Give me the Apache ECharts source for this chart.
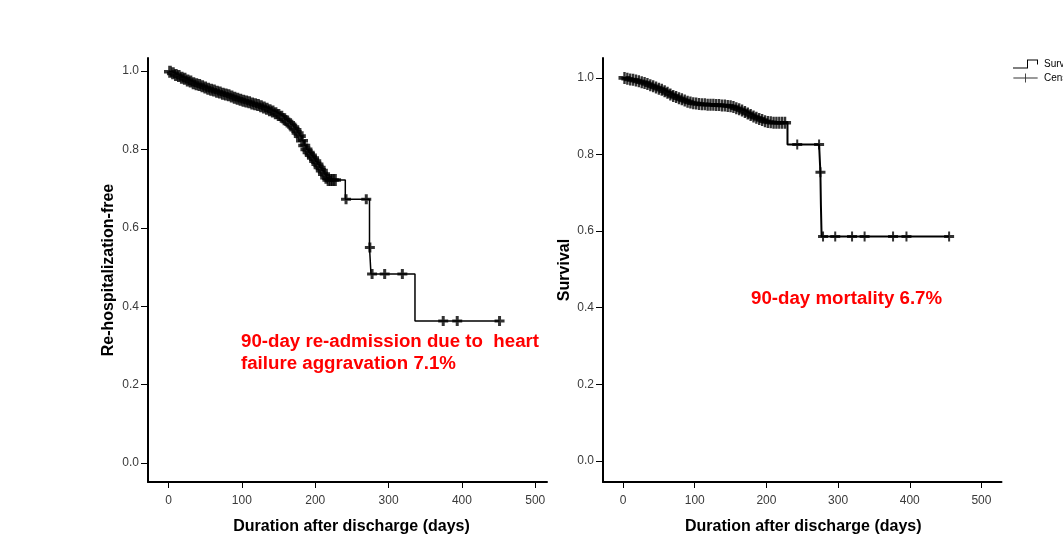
<!DOCTYPE html>
<html><head><meta charset="utf-8">
<script src="https://cdn.jsdelivr.net/npm/echarts@6/dist/echarts.min.js"></script>
<style>html,body{margin:0;padding:0;background:#fff}#c{width:1063px;height:550px}</style>
</head><body><div id="c"></div>
<script>
const xTicks = [0, 100, 200, 300, 400, 500];
const yTicks = [0, 0.2, 0.4, 0.6, 0.8, 1.0];

// Left panel: re-hospitalization-free
const leftCensorTime = [2,6,10,14,18,22,26,30,34,38,42,46,50,54,58,62,66,70,74,78,82,86,90,94,98,102,106,110,114,118,122,126,130,134,138,142,146,150,154,158,162,166,170,173,176,179,182,185,188,191,194,197,200,203,206,209,212,215,218,221,224,227,242,269.6,274.5,277.5,294.7,318.8,374.5,393.6,451.3];
const leftCensorSurv = [0.998,0.994,0.990,0.987,0.983,0.980,0.976,0.973,0.969,0.966,0.964,0.961,0.958,0.955,0.952,0.950,0.947,0.945,0.942,0.940,0.938,0.935,0.932,0.929,0.927,0.924,0.922,0.920,0.917,0.915,0.913,0.910,0.907,0.904,0.900,0.897,0.892,0.888,0.883,0.877,0.871,0.864,0.857,0.850,0.842,0.834,0.822,0.810,0.800,0.792,0.785,0.778,0.770,0.762,0.754,0.746,0.737,0.728,0.722,0.722,0.722,0.722,0.673,0.673,0.55,0.482,0.482,0.482,0.362,0.362,0.362];
const leftEventTime = [0, 241, 274, 276, 336];
const leftEventSurv = [1.0, 0.673, 0.55, 0.482, 0.362];

// Right panel: survival
const rightCensorTime = [2,6,10,14,18,22,26,30,34,38,42,46,50,54,58,62,66,70,74,78,82,86,90,94,98,102,106,110,114,118,122,126,130,134,138,142,146,150,154,158,162,166,170,174,178,182,186,190,194,198,202,206,210,214,218,222,226,243,273.5,275.4,279,296,319.5,337,376.7,395.4,454.9];
const rightCensorSurv = [1.0,0.998,0.996,0.995,0.993,0.991,0.989,0.987,0.984,0.981,0.978,0.975,0.972,0.969,0.965,0.961,0.957,0.953,0.950,0.947,0.944,0.941,0.938,0.936,0.934,0.933,0.932,0.931,0.931,0.930,0.930,0.930,0.929,0.929,0.928,0.928,0.927,0.926,0.924,0.921,0.918,0.915,0.911,0.907,0.903,0.899,0.896,0.893,0.890,0.887,0.885,0.884,0.883,0.883,0.883,0.883,0.883,0.826,0.826,0.754,0.586,0.586,0.586,0.586,0.586,0.586,0.586];
const rightEventTime = [0, 229.4, 275.3, 276, 277];
const rightEventSurv = [1.0, 0.826, 0.754, 0.67, 0.586];

const leftNote = ['90-day re-admission due to  heart', 'failure aggravation 7.1%'];
const rightNote = '90-day mortality 6.7%';

const fontFam = "'Liberation Sans', Arial, sans-serif";
const noteFont = "bold 18.7px 'Liberation Sans', Arial, sans-serif";
const plusSym = 'path://M3.5,0H6.5V10H3.5Z M0,3.5H10V6.5H0Z';
const plusSymThin = 'path://M4,0H6V10H4Z M0,3.5H10V6.5H0Z';
const stepIcon = 'path://M0,9H14V1H25V6H24V2H15V10H0Z';
const plusIcon = 'path://M0,4.5H27V5.5H0Z M13,0H14V10H13Z';

function kmLine(et, es, ct, cs) {
  const pts = [];
  et.forEach((t, i) => pts.push([t, es[i], 0]));
  ct.forEach((t, i) => pts.push([t, cs[i], 1]));
  pts.sort((a, b) => a[0] - b[0] || a[2] - b[2]);
  return pts.map(p => [p[0], p[1]]);
}
function pairs(t, s) { return t.map((v, i) => [v, s[i]]); }
// dense early marks overlap into a thicker band
const markSize = v => (v[0] < 230 ? 12 : 10);

function xAxisCfg(gi, min, max, pad) {
  return {
    type: 'value', gridIndex: gi, min: min, max: max,
    name: 'Duration after discharge (days)', nameLocation: 'middle', nameGap: 37,
    nameTextStyle: {fontFamily: fontFam, fontWeight: 'bold', fontSize: 16, color: '#000', padding: [0, 0, 0, pad]},
    axisLine: {onZero: false, lineStyle: {color: '#000', width: 2}},
    axisTick: {customValues: xTicks, length: 6, lineStyle: {color: '#000', width: 1}},
    axisLabel: {customValues: xTicks, color: '#3a3a3a', fontSize: 12, fontFamily: fontFam, margin: 13},
    splitLine: {show: false}
  };
}
function yAxisCfg(gi, min, max, name, gap) {
  return {
    type: 'value', gridIndex: gi, min: min, max: max,
    name: name, nameLocation: 'middle', nameGap: gap,
    nameTextStyle: {fontFamily: fontFam, fontWeight: 'bold', fontSize: 16, color: '#000'},
    axisLine: {onZero: false, lineStyle: {color: '#000', width: 2}},
    axisTick: {customValues: yTicks, length: 7, lineStyle: {color: '#000', width: 1}},
    axisLabel: {customValues: yTicks, color: '#3a3a3a', fontSize: 12, fontFamily: fontFam, margin: 9,
      formatter: v => v.toFixed(1)},
    splitLine: {show: false}
  };
}

const chart = echarts.init(document.getElementById('c'), null, {renderer: 'canvas'});
chart.setOption({
  animation: false,
  backgroundColor: '#fff',
  grid: [
    {left: 148, top: 58, width: 399, height: 424},
    {left: 603, top: 58, width: 398.5, height: 424}
  ],
  xAxis: [xAxisCfg(0, -28, 516, 8), xAxisCfg(1, -28, 528, 2)],
  yAxis: [
    yAxisCfg(0, -0.0485, 1.0332, 'Re-hospitalization-free', 31),
    yAxisCfg(1, -0.055, 1.052, 'Survival', 30)
  ],
  legend: {
    orient: 'vertical', left: 1013, top: 59, padding: 0,
    itemWidth: 27, itemHeight: 9, itemGap: 4, selectedMode: false,
    textStyle: {fontFamily: fontFam, fontSize: 10, color: '#000'},
    data: [{name: 'Survival Function', icon: stepIcon}, {name: 'Censored', icon: plusIcon}]
  },
  series: [
    {name: 'Survival Function', type: 'line', xAxisIndex: 0, yAxisIndex: 0, step: 'end',
     showSymbol: false, silent: true, lineStyle: {color: '#000', width: 1.5}, itemStyle: {color: '#000'},
     data: kmLine(leftEventTime, leftEventSurv, leftCensorTime, leftCensorSurv)},
    {name: 'Censored', type: 'scatter', xAxisIndex: 0, yAxisIndex: 0, symbol: plusSym, symbolSize: markSize,
     silent: true, itemStyle: {color: '#000'}, data: pairs(leftCensorTime, leftCensorSurv)},
    {name: 'Survival Function', type: 'line', xAxisIndex: 1, yAxisIndex: 1, step: 'end',
     showSymbol: false, silent: true, lineStyle: {color: '#000', width: 2}, itemStyle: {color: '#000'},
     data: kmLine(rightEventTime, rightEventSurv, rightCensorTime, rightCensorSurv)},
    {name: 'Censored', type: 'scatter', xAxisIndex: 1, yAxisIndex: 1, symbol: plusSymThin, symbolSize: markSize,
     silent: true, itemStyle: {color: '#000'}, data: pairs(rightCensorTime, rightCensorSurv)}
  ],
  graphic: [
    {type: 'text', left: 241, top: 332, style: {text: leftNote[0], fill: '#ff0000', font: noteFont}},
    {type: 'text', left: 241, top: 354, style: {text: leftNote[1], fill: '#ff0000', font: noteFont}},
    {type: 'text', left: 751, top: 289, style: {text: rightNote, fill: '#ff0000', font: noteFont}}
  ]
});
</script>
</body></html>
